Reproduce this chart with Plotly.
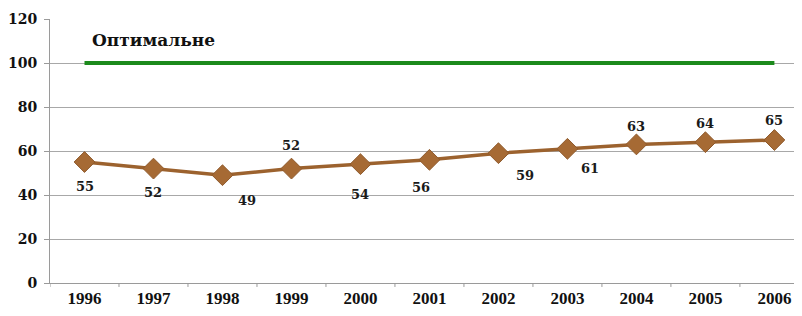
import plotly.graph_objects as go

years = ["1996", "1997", "1998", "1999", "2000", "2001", "2002", "2003", "2004", "2005", "2006"]
values = [55, 52, 49, 52, 54, 56, 59, 61, 63, 64, 65]
optimal = [100] * len(years)
optimal_label = "Оптимальне"
y_ticks = [0, 20, 40, 60, 80, 100, 120]

# label offsets (style): (xshift, yshift) in pixels
offsets = [(0, -24), (0, -24), (25, -25), (0, 23), (0, -30), (-8, -28), (27, -22), (23, -20), (0, 18), (0, 19), (0, 20)]

xpos = list(range(len(years)))

fig = go.Figure()
fig.add_trace(go.Scatter(x=xpos, y=optimal, mode="lines",
                         line=dict(color="#1c8a1c", width=4), hoverinfo="skip"))
fig.add_trace(go.Scatter(x=xpos, y=values, mode="lines+markers",
                         line=dict(color="#9c622e", width=3.5),
                         marker=dict(symbol="diamond", size=16, color="#a66a34",
                                     line=dict(color="#8f5a2c", width=1))))

for i, (xp, v) in enumerate(zip(xpos, values)):
    dx, dy = offsets[i]
    fig.add_annotation(x=xp, y=v, text="<b>" + str(v) + "</b>", showarrow=False, xshift=dx, yshift=dy,
                       font=dict(family="DejaVu Serif", size=13, color="#1a1a1a"))

fig.add_annotation(x=0.08, y=110.5, xanchor="left", text="<b>" + optimal_label + "</b>",
                   showarrow=False, font=dict(family="DejaVu Serif", size=17, color="#111111"))

fig.update_layout(
    width=794, height=300,
    margin=dict(l=40, r=0, t=11, b=19),
    paper_bgcolor="white", plot_bgcolor="white",
    showlegend=False,
    font=dict(family="DejaVu Serif", color="#111111"),
)
fig.update_xaxes(range=[-0.5, 10.4], tickmode="array", tickvals=xpos,
                 ticktext=["<b>" + y + "</b>" for y in years],
                 tickfont=dict(family="Liberation Serif", size=17, color="#111111"),
                 showgrid=False, zeroline=False, showline=True, linecolor="#9a9a9a", linewidth=1,
                 ticks="", fixedrange=True)
# boundary ticks
for b in range(len(years) + 1):
    fig.add_shape(type="line", xref="x", yref="paper", x0=b - 0.5, x1=b - 0.5, y0=0, y1=-0.015,
                  line=dict(color="#9a9a9a", width=1))
fig.update_yaxes(range=[0, 120], tickmode="array", tickvals=y_ticks,
                 ticktext=["<b>%d</b>" % t for t in y_ticks],
                 tickfont=dict(family="DejaVu Serif", size=14, color="#111111"),
                 ticklabelstandoff=4,
                 showgrid=True, gridcolor="#a8a8a8", gridwidth=1,
                 zeroline=False, showline=True, linecolor="#9a9a9a", linewidth=1,
                 ticks="outside", ticklen=5, tickcolor="#9a9a9a")

fig.write_html("out.html")
